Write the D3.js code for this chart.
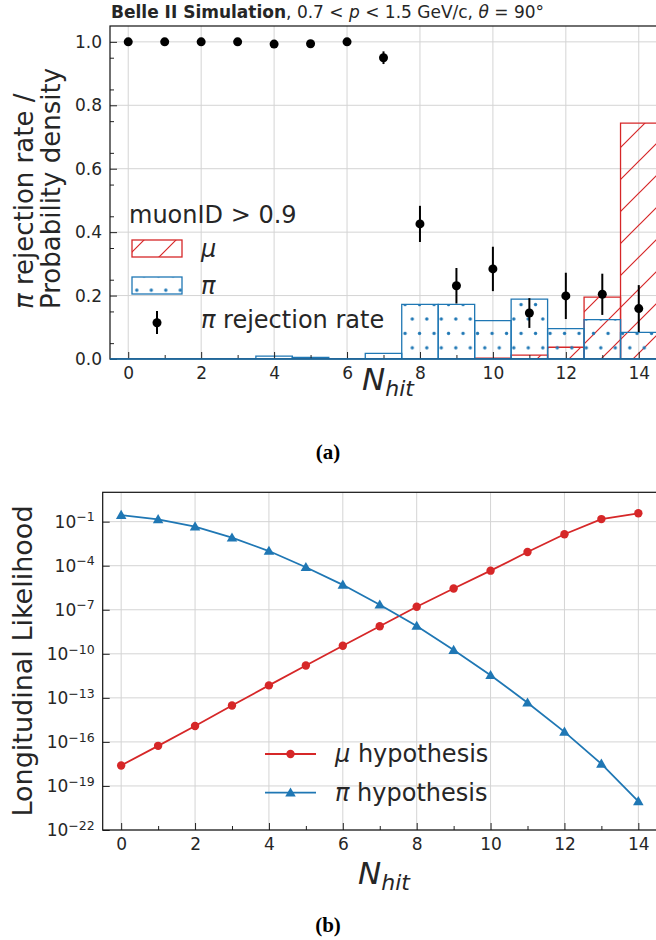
<!DOCTYPE html>
<html>
<head>
<meta charset="utf-8">
<script src="https://cdn.jsdelivr.net/npm/d3@7/dist/d3.min.js"></script>
<style>
  body { margin: 0; background: #fff; }
  text { font-family: "DejaVu Sans", sans-serif; fill: #262626; }
</style>
</head>
<body>
<script>
// ---- data ----
var nhit = [0, 1, 2, 3, 4, 5, 6, 7, 8, 9, 10, 11, 12, 13, 14];
var xTicks = [0, 2, 4, 6, 8, 10, 12, 14];

// panel (a)
var rejRate = [1.0, 1.0, 1.0, 1.0, 0.993, 0.994, 1.0, 0.950, 0.426, 0.231, 0.284, 0.145, 0.199, 0.204, 0.159];
var rejErr  = [0, 0, 0, 0, 0, 0, 0, 0.02, 0.057, 0.056, 0.07, 0.047, 0.073, 0.065, 0.074];
var muDens  = [0, 0, 0, 0, 0, 0, 0, 0, 0.001, 0.001, 0.003, 0.012, 0.037, 0.195, 0.744];
var piDens  = [0, 0, 0, 0, 0.009, 0.005, 0, 0.018, 0.172, 0.172, 0.121, 0.189, 0.096, 0.124, 0.084];
var yTicksA = [0, 0.2, 0.4, 0.6, 0.8, 1.0];

// panel (b)
var muLike = [2.5e-18, 5.4e-17, 1.2e-15, 3.0e-14, 7.1e-13, 1.6e-11, 3.5e-10, 7.6e-9, 1.6e-7, 2.8e-6, 4.6e-5, 8.5e-4, 1.4e-2, 0.15, 0.37];
var piLike = [0.28, 0.145, 0.046, 8.1e-3, 1.0e-3, 7.9e-5, 5.0e-6, 2.2e-7, 7.9e-9, 1.8e-10, 3.5e-12, 4.7e-14, 4.8e-16, 3.2e-18, 8.9e-21];
var yTicksB = [1e-1, 1e-4, 1e-7, 1e-10, 1e-13, 1e-16, 1e-19, 1e-22];
var yExpB   = ["\u22121", "\u22124", "\u22127", "\u221210", "\u221213", "\u221216", "\u221219", "\u221222"];

var RED = "#d62728", BLUE = "#1f77b4", GRID = "#d4d4d4";

var svg = d3.select("body").append("svg")
            .attr("width", 656)
            .attr("height", 940);

var defs = svg.append("defs");

// hatch '/' for mu
var HP = 32;
var hatch = defs.append("pattern")
    .attr("id", "hatch")
    .attr("patternUnits", "userSpaceOnUse")
    .attr("width", HP).attr("height", HP);
hatch.append("path")
    .attr("d", "M-8,8 L8,-8 M0," + HP + " L" + HP + ",0 M" + (HP - 8) + "," + (HP + 8) + " L" + (HP + 8) + "," + (HP - 8))
    .style("stroke", RED).style("stroke-width", 1.2).style("fill", "none");

// dots '.' for pi
var dots = defs.append("pattern")
    .attr("id", "dots")
    .attr("patternUnits", "userSpaceOnUse")
    .attr("x", 412.3).attr("y", 319)
    .attr("width", 14.5).attr("height", 28.8);
[[0, 0], [14.5, 0], [0, 28.8], [14.5, 28.8], [7.25, 14.4]].forEach(function(p) {
  dots.append("circle").attr("cx", p[0]).attr("cy", p[1]).attr("r", 1.7).style("fill", BLUE);
});

defs.append("clipPath").attr("id", "clipA")
    .append("rect").attr("x", 110).attr("y", 26).attr("width", 547).attr("height", 333);

function styleAxis(g) {
  g.select(".domain").remove();
  g.selectAll(".tick line").attr("stroke", "#222").attr("stroke-width", 1);
  g.selectAll(".tick text").style("font-size", "17px");
}

// ================= panel (a) =================
var xA = d3.scaleLinear().domain([-0.5, 14.5]).range([110, 657]);
var yA = d3.scaleLinear().domain([0, 1.05]).range([359, 26]);

var gA = svg.append("g");

gA.append("g").selectAll("line").data(xTicks).enter().append("line")
  .attr("x1", function(d) { return xA(d); }).attr("x2", function(d) { return xA(d); })
  .attr("y1", yA.range()[0]).attr("y2", yA.range()[1])
  .attr("stroke", GRID).attr("stroke-width", 1);
gA.append("g").selectAll("line").data(yTicksA).enter().append("line")
  .attr("y1", function(d) { return yA(d); }).attr("y2", function(d) { return yA(d); })
  .attr("x1", xA.range()[0]).attr("x2", xA.range()[1])
  .attr("stroke", GRID).attr("stroke-width", 1);

function barPath(i, v) {
  var x0 = xA(i - 0.5), x1 = xA(i + 0.5), y0 = yA(0), y1 = yA(v);
  return "M" + x0 + "," + y0 + "V" + y1 + "H" + x1 + "V" + y0 + "Z";
}

var bars = gA.append("g").attr("clip-path", "url(#clipA)");
bars.selectAll(".mu").data(muDens).enter().append("path")
    .attr("d", function(d, i) { return barPath(nhit[i], d); })
    .attr("fill", "url(#hatch)").attr("stroke", RED).attr("stroke-width", 1.3);
bars.selectAll(".pi").data(piDens).enter().append("path")
    .attr("d", function(d, i) { return barPath(nhit[i], d); })
    .attr("fill", "url(#dots)").attr("stroke", BLUE).attr("stroke-width", 1.3);

// rejection rate points
var pts = gA.append("g");
pts.selectAll("line").data(rejRate).enter().append("line")
   .attr("x1", function(d, i) { return xA(nhit[i]); })
   .attr("x2", function(d, i) { return xA(nhit[i]); })
   .attr("y1", function(d, i) { return yA(d - rejErr[i]); })
   .attr("y2", function(d, i) { return yA(d + rejErr[i]); })
   .attr("stroke", "#000").attr("stroke-width", 2);
pts.selectAll("circle").data(rejRate).enter().append("circle")
   .attr("cx", function(d, i) { return xA(nhit[i]); })
   .attr("cy", function(d) { return yA(d); })
   .attr("r", 4.5).attr("fill", "#000");

// axes
gA.append("g").attr("transform", "translate(0,359)")
  .call(d3.axisBottom(xA).tickValues(xTicks).tickSize(-7).tickPadding(8))
  .call(styleAxis);
gA.append("g").attr("transform", "translate(0,359)")
  .call(d3.axisBottom(xA).tickValues(nhit.filter(function(d) { return d % 2; })).tickSize(-4).tickFormat(""))
  .call(styleAxis);
gA.append("g").attr("transform", "translate(110,0)")
  .call(d3.axisLeft(yA).tickValues(yTicksA).tickFormat(d3.format(".1f")).tickSize(-7).tickPadding(8))
  .call(styleAxis);
gA.append("g").attr("transform", "translate(110,0)")
  .call(d3.axisLeft(yA).tickValues([0.05, 0.15, 0.25, 0.35, 0.45, 0.55, 0.65, 0.75, 0.85, 0.95]).tickSize(-4).tickFormat(""))
  .call(styleAxis);

gA.append("rect").attr("x", 110).attr("y", 26).attr("width", 547).attr("height", 333)
  .attr("fill", "none").attr("stroke", "#111").attr("stroke-width", 1.2);
// bottom edge covered by the pi outlines
gA.append("line").attr("x1", 110).attr("x2", 657).attr("y1", 359).attr("y2", 359)
  .attr("stroke", BLUE).attr("stroke-width", 1.3);

// title
var title = svg.append("text").attr("x", 111).attr("y", 18).style("font-size", "17px");
title.append("tspan").attr("font-weight", "bold").text("Belle II Simulation");
title.append("tspan").text(", 0.7 < ");
title.append("tspan").attr("font-style", "italic").text("p");
title.append("tspan").text(" < 1.5 GeV/c, ");
title.append("tspan").attr("font-style", "italic").text("\u03b8");
title.append("tspan").text(" = 90\u00b0");

// y label (a), two lines starting at the same bottom end
var ylA = svg.append("g").attr("transform", "rotate(-90)");
var l1 = ylA.append("text").attr("x", -309).attr("y", 33).style("font-size", "26px");
l1.append("tspan").attr("font-style", "italic").text("\u03c0");
l1.append("tspan").text(" rejection rate /");
ylA.append("text").attr("x", -309).attr("y", 60).style("font-size", "26px")
   .text("Probability density");

function nhitLabel(x, y) {
  var t = svg.append("text").attr("x", x).attr("y", y).attr("text-anchor", "middle")
             .style("font-size", "31px").attr("font-style", "italic");
  t.append("tspan").text("N");
  t.append("tspan").attr("dy", 6).style("font-size", "22px").text("hit");
}
nhitLabel(388, 390);

// legend (a)
var lgA = svg.append("g");
lgA.append("text").attr("x", 129).attr("y", 223).style("font-size", "24px").text("muonID > 0.9");
lgA.append("rect").attr("x", 132).attr("y", 240).attr("width", 50).attr("height", 17)
   .attr("fill", "url(#hatch)").attr("stroke", RED).attr("stroke-width", 1.3);
lgA.append("rect").attr("x", 132).attr("y", 277).attr("width", 50).attr("height", 17)
   .attr("fill", "url(#dots)").attr("stroke", BLUE).attr("stroke-width", 1.3);
lgA.append("text").attr("x", 201).attr("y", 257).style("font-size", "24px").attr("font-style", "italic").text("\u03bc");
lgA.append("text").attr("x", 201).attr("y", 294).style("font-size", "24px").attr("font-style", "italic").text("\u03c0");
lgA.append("line").attr("x1", 157).attr("x2", 157).attr("y1", 311).attr("y2", 334)
   .attr("stroke", "#000").attr("stroke-width", 2);
lgA.append("circle").attr("cx", 157).attr("cy", 322.7).attr("r", 4.5).attr("fill", "#000");
var rl = lgA.append("text").attr("x", 201).attr("y", 328).style("font-size", "24px");
rl.append("tspan").attr("font-style", "italic").text("\u03c0");
rl.append("tspan").text(" rejection rate");

svg.append("text").attr("x", 328).attr("y", 459).attr("text-anchor", "middle")
   .style("font-family", "'Liberation Serif', serif").style("font-size", "21px").attr("font-weight", "bold")
   .style("fill", "#000").text("(a)");

// ================= panel (b) =================
var xB = d3.scaleLinear().domain([-0.5, 14.5]).range([102.7, 656.8]);
var yB = d3.scaleLog().domain([1e-22, 1e1]).range([830, 492.3]);

var gB = svg.append("g");
gB.append("g").selectAll("line").data(xTicks).enter().append("line")
  .attr("x1", function(d) { return xB(d); }).attr("x2", function(d) { return xB(d); })
  .attr("y1", yB.range()[0]).attr("y2", yB.range()[1])
  .attr("stroke", GRID).attr("stroke-width", 1);
gB.append("g").selectAll("line").data(yTicksB).enter().append("line")
  .attr("y1", function(d) { return yB(d); }).attr("y2", function(d) { return yB(d); })
  .attr("x1", xB.range()[0]).attr("x2", xB.range()[1])
  .attr("stroke", GRID).attr("stroke-width", 1);

var line = d3.line()
  .x(function(d, i) { return xB(nhit[i]); })
  .y(function(d) { return yB(d); });

gB.append("path").datum(muLike).attr("d", line)
  .attr("fill", "none").attr("stroke", RED).attr("stroke-width", 1.8);
gB.append("path").datum(piLike).attr("d", line)
  .attr("fill", "none").attr("stroke", BLUE).attr("stroke-width", 1.8);

gB.append("g").selectAll("circle").data(muLike).enter().append("circle")
  .attr("cx", function(d, i) { return xB(nhit[i]); })
  .attr("cy", function(d) { return yB(d); })
  .attr("r", 4.2).attr("fill", RED);

var tri = d3.symbol().type(d3.symbolTriangle).size(48);
gB.append("g").selectAll("path").data(piLike).enter().append("path")
  .attr("d", tri)
  .attr("transform", function(d, i) { return "translate(" + xB(nhit[i]) + "," + (yB(d) + 0.8) + ")"; })
  .attr("fill", BLUE);

gB.append("g").attr("transform", "translate(0,830)")
  .call(d3.axisBottom(xB).tickValues(xTicks).tickSize(-7).tickPadding(8))
  .call(styleAxis);
gB.append("g").attr("transform", "translate(0,830)")
  .call(d3.axisBottom(xB).tickValues(nhit.filter(function(d) { return d % 2; })).tickSize(-4).tickFormat(""))
  .call(styleAxis);
var yAxB = gB.append("g").attr("transform", "translate(102.7,0)")
  .call(d3.axisLeft(yB).tickValues(yTicksB).tickFormat("").tickSize(-7).tickPadding(8))
  .call(styleAxis);
yAxB.selectAll(".tick text").each(function(d, i) {
  var t = d3.select(this);
  t.append("tspan").text("10");
  t.append("tspan").attr("dy", "-0.5em").style("font-size", "12.5px").text(yExpB[i]);
});

gB.append("rect").attr("x", 102.7).attr("y", 492.3).attr("width", 554.1).attr("height", 337.7)
  .attr("fill", "none").attr("stroke", "#111").attr("stroke-width", 1.2);

svg.append("text").attr("transform", "translate(32,661) rotate(-90)")
   .attr("text-anchor", "middle").style("font-size", "27px").text("Longitudinal Likelihood");

nhitLabel(384, 884);

// legend (b)
var lgB = svg.append("g");
lgB.append("line").attr("x1", 265).attr("x2", 316).attr("y1", 754).attr("y2", 754)
   .attr("stroke", RED).attr("stroke-width", 1.8);
lgB.append("circle").attr("cx", 290.5).attr("cy", 754).attr("r", 4.2).attr("fill", RED);
lgB.append("line").attr("x1", 265).attr("x2", 316).attr("y1", 792.7).attr("y2", 792.7)
   .attr("stroke", BLUE).attr("stroke-width", 1.8);
lgB.append("path").attr("d", tri).attr("transform", "translate(290.5,793.5)").attr("fill", BLUE);
var m1 = lgB.append("text").attr("x", 335).attr("y", 762).style("font-size", "24px");
m1.append("tspan").attr("font-style", "italic").text("\u03bc");
m1.append("tspan").text(" hypothesis");
var m2 = lgB.append("text").attr("x", 335).attr("y", 801).style("font-size", "24px");
m2.append("tspan").attr("font-style", "italic").text("\u03c0");
m2.append("tspan").text(" hypothesis");

svg.append("text").attr("x", 328).attr("y", 932).attr("text-anchor", "middle")
   .style("font-family", "'Liberation Serif', serif").style("font-size", "21px").attr("font-weight", "bold")
   .style("fill", "#000").text("(b)");
</script>
</body>
</html>
